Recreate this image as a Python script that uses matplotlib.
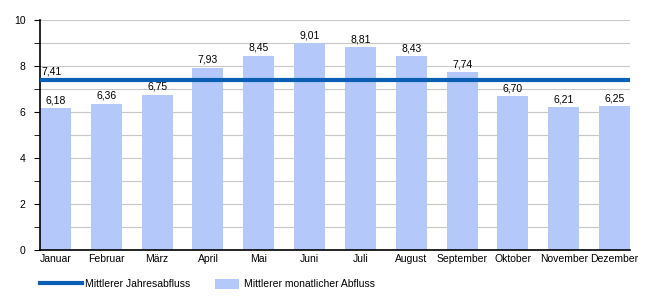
import numpy as np
import matplotlib
matplotlib.use("Agg")
import matplotlib.pyplot as plt
from matplotlib.lines import Line2D
from matplotlib.patches import Patch

# data
months = ["Januar", "Februar", "März", "April", "Mai", "Juni", "Juli",
          "August", "September", "Oktober", "November", "Dezember"]
monthly = [6.18, 6.36, 6.75, 7.93, 8.45, 9.01, 8.81, 8.43, 7.74, 6.70, 6.21, 6.25]
annual = 7.41

plt.rcParams['font.family'] = ['Liberation Sans', 'DejaVu Sans']
plt.rcParams['font.size'] = 7.5

bar_col = '#b4c9fa'
line_col = '#0a5fb4'
w = 0.61

fig = plt.figure(figsize=(6.5, 3), dpi=100)
ax = fig.add_axes([40/650, 1-250/300, 590/650, 230/300])

x = np.arange(len(months))
ax.bar(x, monthly, width=w, color=bar_col, zorder=2)
for xi, v in zip(x, monthly):
    ax.text(xi, v + 0.12, f"{v:.2f}".replace('.', ','), ha='center', va='bottom')

ax.axhline(annual, color=line_col, lw=3, zorder=3)
ax.text(-w/2 + 0.02, annual + 0.15, f"{annual:.2f}".replace('.', ','), ha='left', va='bottom')

ax.set_xlim(-w/2, len(months) - 1 + w/2)
ax.set_ylim(0, 10)
ax.set_yticks(np.arange(0, 11, 2))
ax.set_yticks(np.arange(1, 10, 2), minor=True)
ax.grid(axis='y', which='both', color='#c8c8c8', lw=0.8, zorder=0)
ax.set_xticks(x)
ax.set_xticklabels(months)
ax.tick_params(axis='x', length=0, pad=3)
ax.tick_params(axis='y', which='major', length=4.5, pad=5.8)
ax.tick_params(axis='y', which='minor', length=4.5)
for s in ['top', 'right']:
    ax.spines[s].set_visible(False)
ax.spines['left'].set_linewidth(1.2)
ax.spines['bottom'].set_linewidth(1.2)

# two legends so the line and patch handles get their own lengths
leg_y = 1 - 284/300
kw = dict(loc='center left', frameon=False, borderpad=0, borderaxespad=0)
fig.legend([Line2D([], [], color=line_col, lw=3)], ["Mittlerer Jahresabfluss"],
           bbox_to_anchor=(40/650, leg_y), handlelength=4.0, handletextpad=0.3, **kw)
fig.legend([Patch(facecolor=bar_col)], ["Mittlerer monatlicher Abfluss"],
           bbox_to_anchor=(215/650, leg_y), handlelength=2.3, handleheight=1.2,
           handletextpad=0.5, **kw)

fig.savefig("out.png", dpi=100)
